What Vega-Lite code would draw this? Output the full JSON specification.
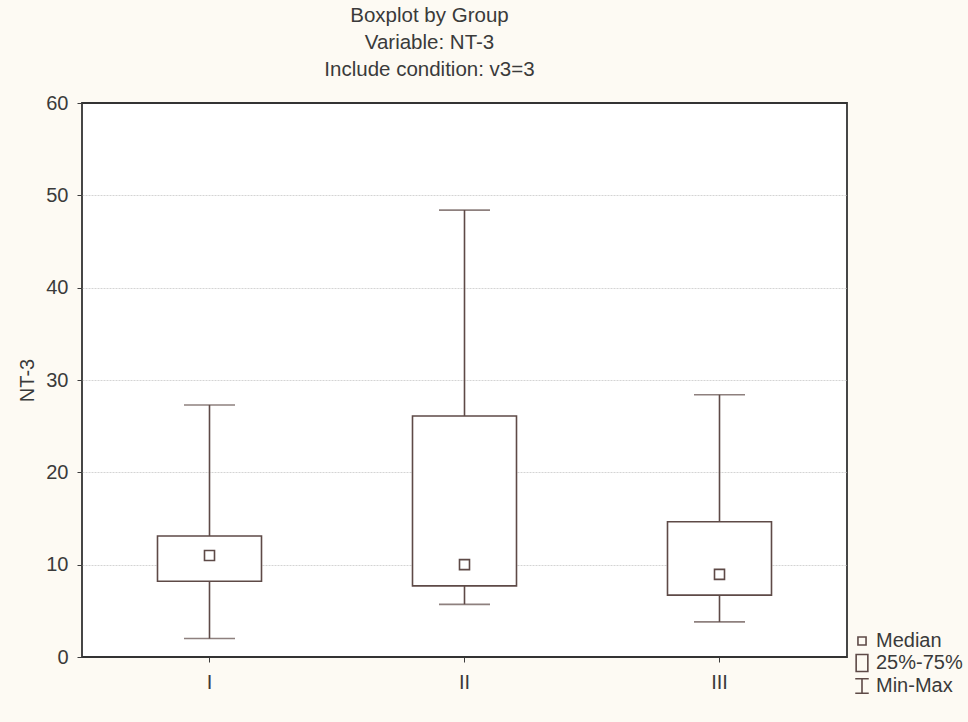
{
  "$schema": "https://vega.github.io/schema/vega-lite/v6.json",
  "autosize": {"type": "none"},
  "padding": {"left": 82, "top": 103, "right": 121, "bottom": 65},
  "width": 765,
  "height": 554,
  "background": "#fdfaf3",
  "config": {
    "font": "Liberation Sans",
    "view": {"fill": "#ffffff", "stroke": "#333333", "strokeWidth": 1.8},
    "axis": {"labelFont": "Liberation Sans", "titleFont": "Liberation Sans", "labelColor": "#3a3a3a", "titleColor": "#3a3a3a"}
  },
  "title": {
    "text": ["Boxplot by Group", "Variable: NT-3", "Include condition: v3=3"],
    "font": "Liberation Sans",
    "fontSize": 20.5,
    "fontWeight": "normal",
    "color": "#3a3a3a",
    "lineHeight": 27,
    "anchor": "middle",
    "dx": -35,
    "offset": 13
  },
  "data": {
    "values": [
      {"group": "I", "min": 2.0, "q1": 8.2, "median": 11.0, "q3": 13.1, "max": 27.3},
      {"group": "II", "min": 5.7, "q1": 7.7, "median": 10.0, "q3": 26.1, "max": 48.4},
      {"group": "III", "min": 3.8, "q1": 6.7, "median": 8.95, "q3": 14.65, "max": 28.4}
    ]
  },
  "encoding": {
    "x": {
      "field": "group",
      "type": "nominal",
      "sort": ["I", "II", "III"],
      "scale": {"paddingInner": 0, "paddingOuter": 0},
      "axis": {
        "title": null,
        "labelAngle": 0,
        "labelFontSize": 20,
        "labelPadding": 10,
        "tickSize": 5,
        "tickColor": "#3c3c3c",
        "domain": false,
        "grid": false
      }
    }
  },
  "layer": [
    {
      "mark": {"type": "rule", "color": "#5e4a47", "strokeWidth": 1.6},
      "encoding": {
        "y": {
          "field": "min",
          "type": "quantitative",
          "scale": {"domain": [0, 60], "nice": false},
          "axis": {
            "title": "NT-3",
            "titleFontSize": 20,
            "titleFontWeight": "normal",
            "titlePadding": 8,
            "values": [0, 10, 20, 30, 40, 50, 60],
            "labelFontSize": 20,
            "labelPadding": 9,
            "tickSize": 5,
            "tickColor": "#3c3c3c",
            "domain": false,
            "grid": true,
            "gridColor": {
              "condition": {"test": "datum.value === 0 || datum.value === 60", "value": "transparent"},
              "value": "#d4d4d4"
            },
            "gridDash": [2, 1],
            "gridWidth": 1
          }
        },
        "y2": {"field": "max"}
      }
    },
    {
      "mark": {"type": "tick", "color": "#5e4a47", "thickness": 1.6, "size": 51},
      "encoding": {"y": {"field": "min", "type": "quantitative"}}
    },
    {
      "mark": {"type": "tick", "color": "#5e4a47", "thickness": 1.6, "size": 51},
      "encoding": {"y": {"field": "max", "type": "quantitative"}}
    },
    {
      "mark": {"type": "bar", "width": 104, "fill": "#ffffff", "stroke": "#5e4a47", "strokeWidth": 1.6},
      "encoding": {
        "y": {"field": "q1", "type": "quantitative"},
        "y2": {"field": "q3"}
      }
    },
    {
      "mark": {"type": "point", "filled": false, "stroke": "#5e4a47", "strokeWidth": 1.6, "size": 494, "opacity": 1},
      "encoding": {
        "y": {"field": "median", "type": "quantitative"},
        "shape": {
          "datum": "Median",
          "scale": {
            "domain": ["Median", "25%-75%", "Min-Max"],
            "range": [
              "M-0.45,-0.45H0.45V0.45H-0.45Z",
              "M-0.65,-0.95H0.65V0.95H-0.65Z",
              "M-0.75,-0.8H0.75M0,-0.8V0.8M-0.75,0.8H0.75"
            ]
          },
          "legend": {
            "title": null,
            "orient": "none",
            "legendX": 770,
            "legendY": 528,
            "symbolSize": 324,
            "symbolStrokeColor": "#5e4a47",
            "symbolFillColor": "transparent",
            "symbolStrokeWidth": 1.6,
            "labelFontSize": 20,
            "labelColor": "#3a3a3a",
            "labelFont": "Liberation Sans",
            "labelOffset": 4,
            "rowPadding": 0
          }
        }
      }
    }
  ]
}
